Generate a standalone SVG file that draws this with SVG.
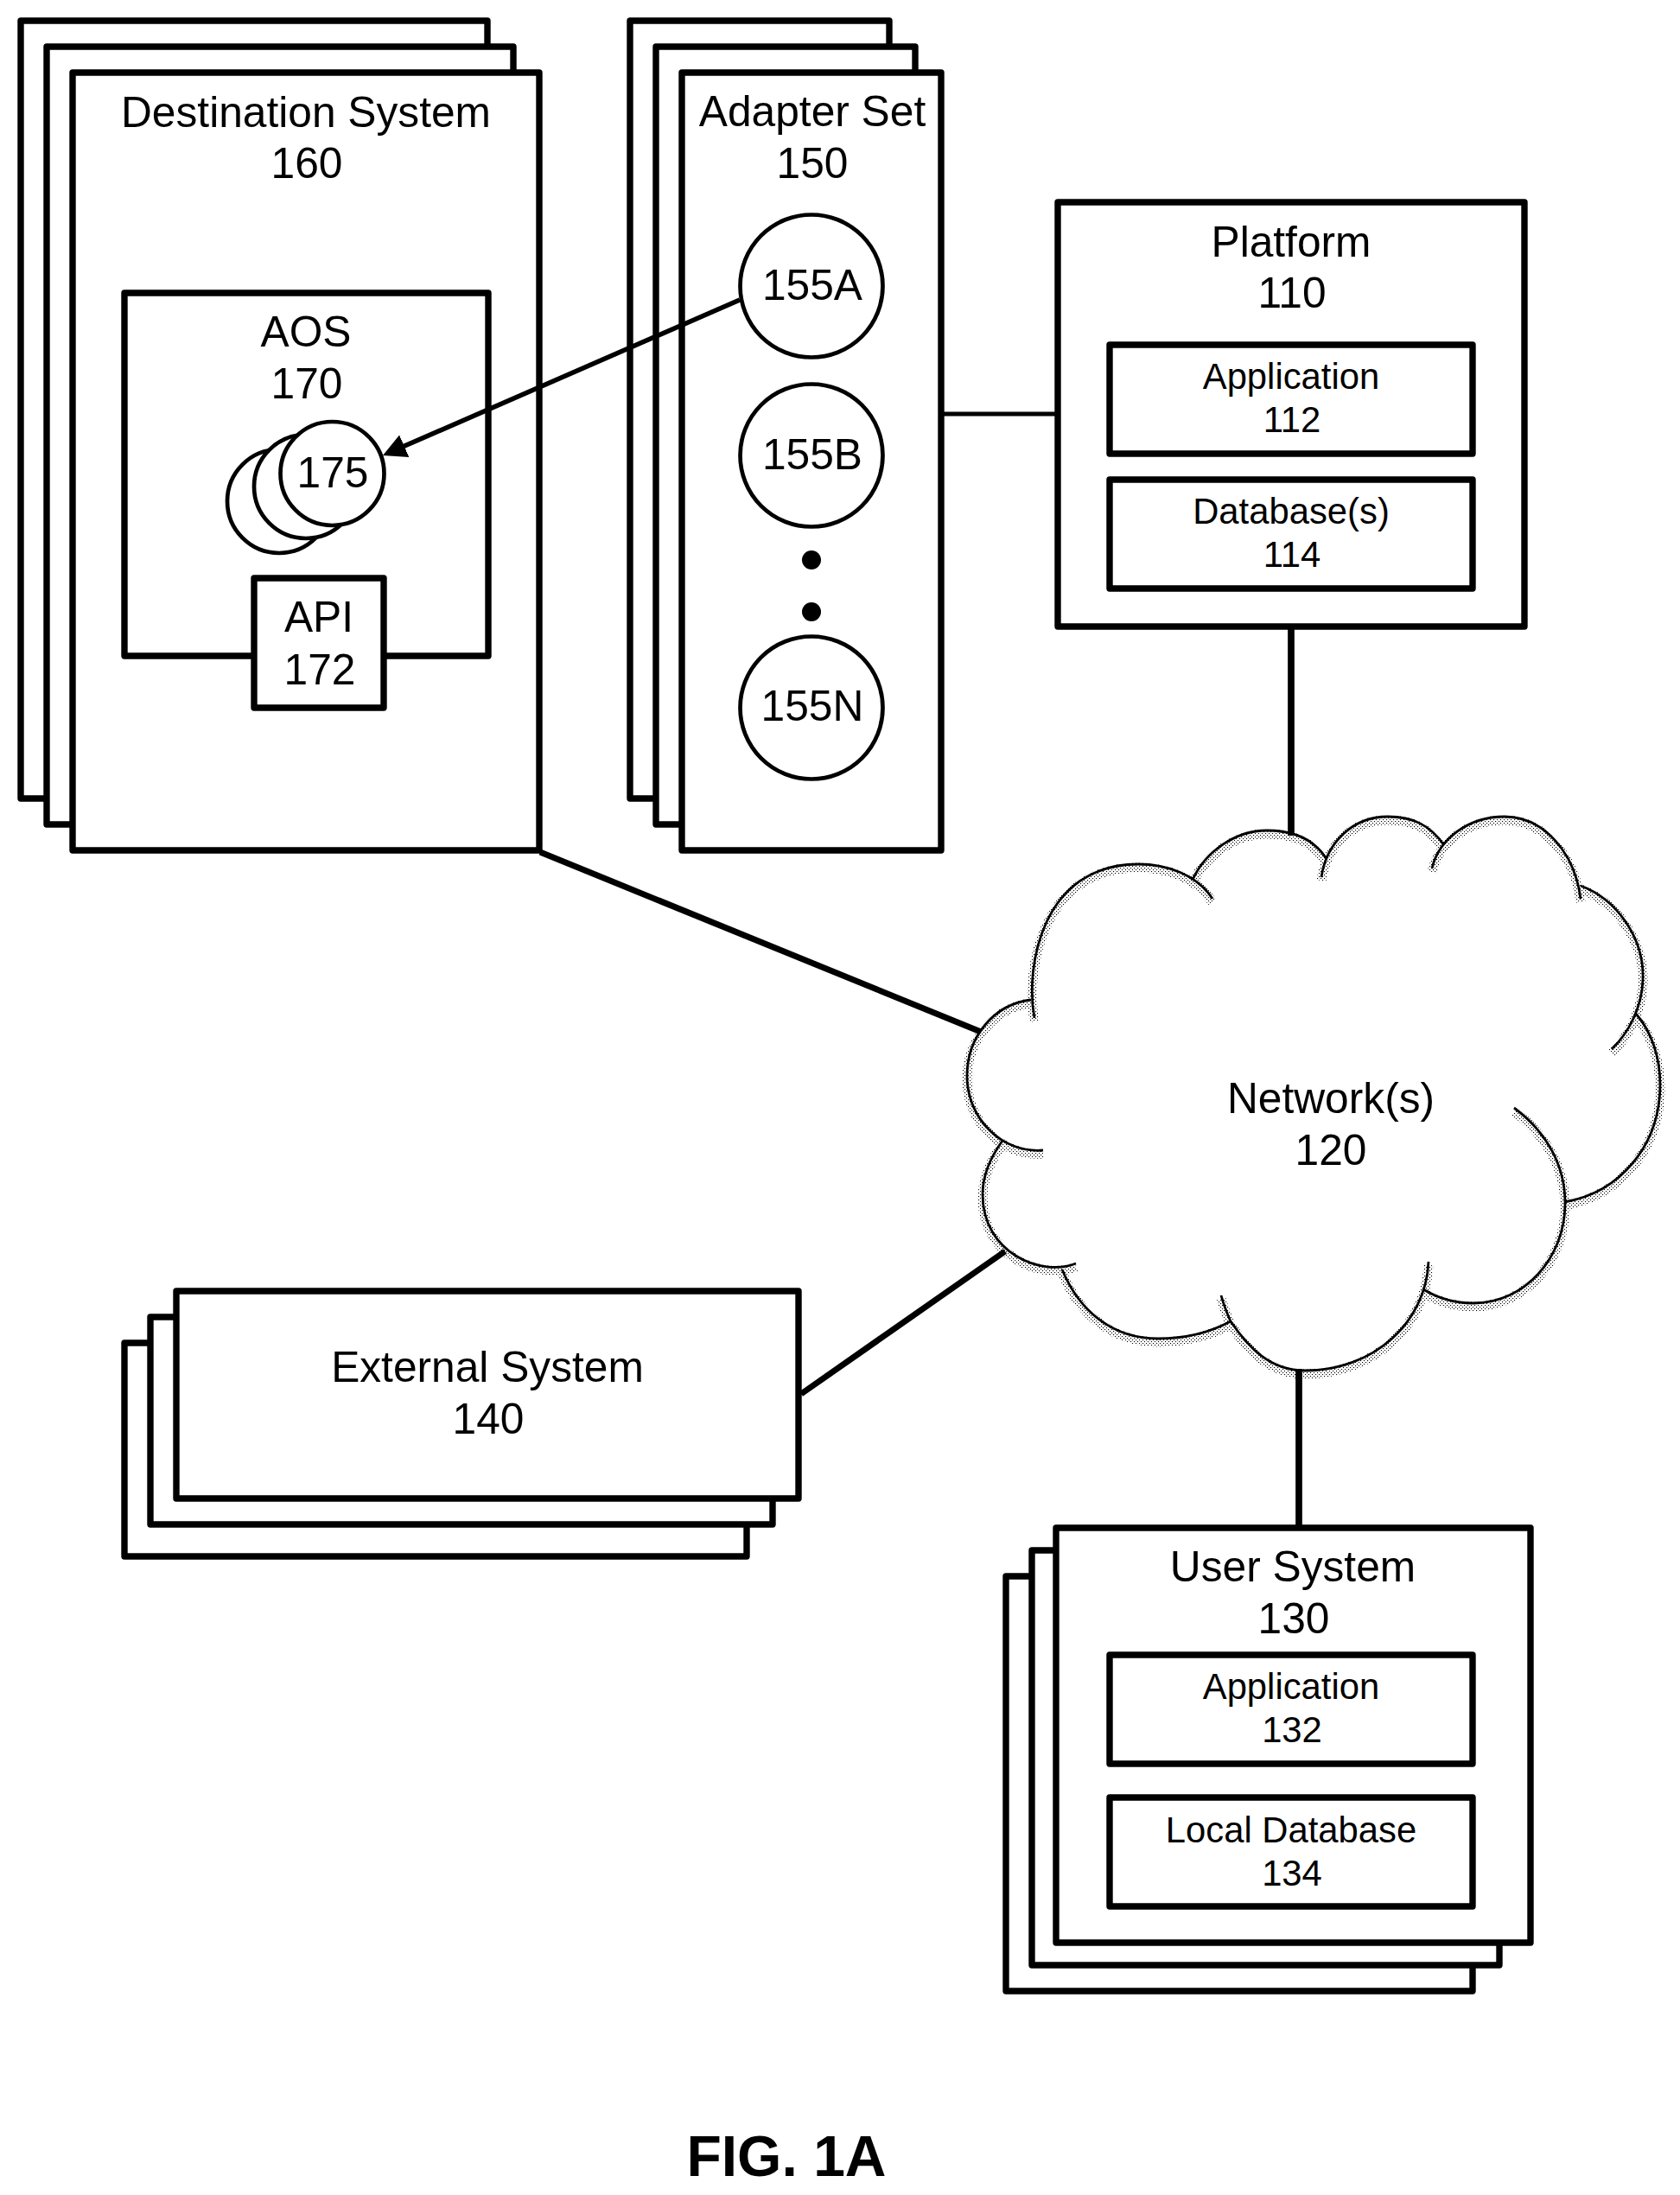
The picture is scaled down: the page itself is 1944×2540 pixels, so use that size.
<svg xmlns="http://www.w3.org/2000/svg" xmlns:xlink="http://www.w3.org/1999/xlink" width="1944" height="2540" viewBox="0 0 1944 2540">
<style>
.box{fill:#fff;stroke:#000;stroke-width:7.4;stroke-linejoin:round}
.cir{fill:#fff;stroke:#000;stroke-width:4.7}
.t{font-family:"Liberation Sans",Arial,sans-serif;font-size:49.7px;fill:#000;text-anchor:middle}
.s{font-size:41.8px}
.fig{font-size:66px;font-weight:bold}
.thick{stroke:#000;stroke-width:7.7;fill:none}
.diag{stroke:#000;stroke-width:7;fill:none}
.thin{stroke:#000;stroke-width:5;fill:none}
.arrowline{stroke:#000;stroke-width:5.5;fill:none}
.arc{fill:none;stroke:#000;stroke-width:2.8}
.shade{fill:none;stroke:url(#dots);stroke-width:11}
</style>
<defs>
<pattern id="dots" width="4" height="4" patternUnits="userSpaceOnUse">
<rect x="0" y="0" width="1.1" height="1.1" fill="#000"/>
<rect x="2" y="2" width="1.1" height="1.1" fill="#000"/>
</pattern>
<marker id="arrow" markerUnits="userSpaceOnUse" markerWidth="32" markerHeight="32" refX="21" refY="16" orient="auto">
<path d="M0,2 L27,16 L0,30 Z" fill="#000"/>
</marker>
<path id="cloudArcs" d="M1197,1178 C1186,1120 1205,1000 1317,1000 C1350,1000 1385,1012 1403,1040
M1380,1018 C1395,985 1430,961 1466,961 C1495,961 1520,970 1535,994
M1529,1015 C1535,975 1565,945 1606,945 C1635,945 1655,955 1671,978
M1657,1005 C1665,970 1700,945 1741,945 C1785,945 1822,985 1829,1040
M1829,1025 C1870,1040 1903,1085 1901,1134 C1900,1165 1885,1195 1865,1214
M1893,1173 C1912,1195 1921,1225 1921,1255 C1921,1325 1875,1380 1810,1391
M1752,1282 C1790,1310 1812,1350 1811,1395 C1810,1455 1765,1508 1705,1508 C1685,1508 1665,1503 1647,1492
M1653,1460 C1650,1530 1590,1586 1510,1586 C1470,1586 1445,1560 1424,1529
M1413,1499 C1416,1510 1420,1520 1424,1529 C1400,1542 1370,1549 1340,1549 C1290,1549 1250,1520 1229,1469
M1245,1462 C1205,1478 1137,1450 1137,1382 C1137,1360 1147,1338 1160,1320
M1207,1331 C1160,1335 1119,1295 1119,1245 C1119,1200 1150,1162 1193,1157"/>
</defs>
<rect width="1944" height="2540" fill="#fff"/>

<g id="destination-system">
<rect class="box" x="24" y="24" width="540" height="900"/>
<rect class="box" x="54" y="54" width="540" height="900"/>
<rect class="box" x="84" y="84" width="540" height="900"/>
<text class="t" x="354" y="147">Destination System</text>
<text class="t" x="355" y="206">160</text>
</g>
<g id="aos">
<rect class="box" x="144" y="339" width="421" height="420"/>
<text class="t" x="354" y="401">AOS</text>
<text class="t" x="355" y="461">170</text>
</g>
<g id="item-175">
<circle class="cir" cx="323" cy="580" r="60"/>
<circle class="cir" cx="354" cy="563" r="60"/>
<circle class="cir" cx="384.5" cy="548" r="60"/>
<text class="t" x="385" y="564">175</text>
</g>
<g id="api">
<rect class="box" x="294" y="669" width="150" height="150"/>
<text class="t" x="369" y="731">API</text>
<text class="t" x="370" y="792">172</text>
</g>

<g id="adapter-set">
<rect class="box" x="729" y="24" width="300" height="900"/>
<rect class="box" x="759" y="54" width="300" height="900"/>
<rect class="box" x="789" y="84" width="300" height="900"/>
<text class="t" x="940" y="146">Adapter Set</text>
<text class="t" x="940" y="206">150</text>
</g>
<g id="adapter-155a">
<circle class="cir" cx="939" cy="331" r="82.5"/>
<text class="t" x="940" y="347">155A</text>
</g>
<g id="adapter-155b">
<circle class="cir" cx="939" cy="527" r="82.5"/>
<text class="t" x="940" y="543">155B</text>
</g>
<g id="ellipsis">
<circle cx="939" cy="648" r="11" fill="#000"/>
<circle cx="939" cy="708" r="11" fill="#000"/>
</g>
<g id="adapter-155n">
<circle class="cir" cx="939" cy="819" r="82.5"/>
<text class="t" x="940" y="834">155N</text>
</g>

<g id="platform">
<rect class="box" x="1224" y="234" width="540" height="491"/>
<text class="t" x="1494" y="297">Platform</text>
<text class="t" x="1495" y="356">110</text>
</g>
<g id="application-112">
<rect class="box" x="1284" y="399" width="420" height="126"/>
<text class="t s" x="1494" y="450">Application</text>
<text class="t s" x="1495" y="500">112</text>
</g>
<g id="database-114">
<rect class="box" x="1284" y="555" width="420" height="126"/>
<text class="t s" x="1494" y="606">Database(s)</text>
<text class="t s" x="1495" y="656">114</text>
</g>

<g id="network">
<use xlink:href="#cloudArcs" href="#cloudArcs" class="shade" transform="translate(0,4)"/>
<use xlink:href="#cloudArcs" href="#cloudArcs" class="arc"/>
<text class="t" x="1540" y="1288">Network(s)</text>
<text class="t" x="1540" y="1348">120</text>
</g>

<g id="external-system">
<rect class="box" x="144" y="1554" width="720" height="247"/>
<rect class="box" x="174" y="1524" width="720" height="240"/>
<rect class="box" x="204" y="1494" width="720" height="240"/>
<text class="t" x="564" y="1599">External System</text>
<text class="t" x="565" y="1659">140</text>
</g>

<g id="user-system">
<rect class="box" x="1164" y="1824" width="540" height="480"/>
<rect class="box" x="1194" y="1794" width="541" height="480"/>
<rect class="box" x="1222" y="1768" width="549" height="480"/>
<text class="t" x="1496" y="1830">User System</text>
<text class="t" x="1497" y="1890">130</text>
</g>
<g id="application-132">
<rect class="box" x="1284" y="1915" width="420" height="126"/>
<text class="t s" x="1494" y="1966">Application</text>
<text class="t s" x="1495" y="2016">132</text>
</g>
<g id="database-134">
<rect class="box" x="1284" y="2080" width="420" height="126"/>
<text class="t s" x="1494" y="2132">Local Database</text>
<text class="t s" x="1495" y="2182">134</text>
</g>

<g id="connectors">
<line class="arrowline" x1="856" y1="347" x2="448.5" y2="524.6" marker-end="url(#arrow)"/>
<line class="thin" x1="1092" y1="479" x2="1221" y2="479"/>
<line class="thick" x1="1494" y1="728" x2="1494" y2="967"/>
<line class="diag" x1="625" y1="986" x2="1135" y2="1194"/>
<line class="diag" x1="927" y1="1613" x2="1163" y2="1448"/>
<line class="thick" x1="1503" y1="1584" x2="1503" y2="1765"/>
</g>

<text id="figure-label" class="t fig" x="910" y="2518">FIG. 1A</text>
</svg>
